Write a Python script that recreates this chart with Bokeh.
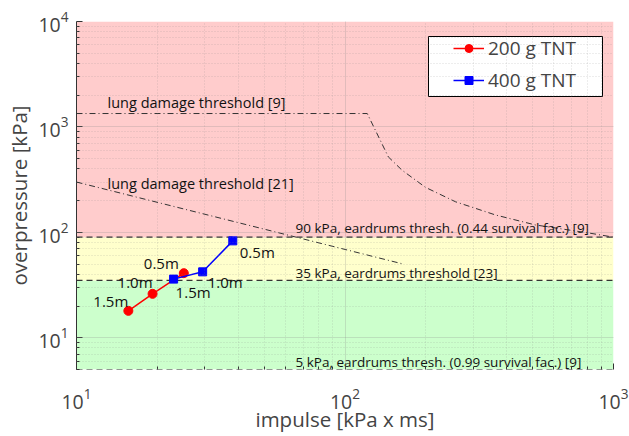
from bokeh.plotting import figure
from bokeh.models import (ColumnDataSource, FixedTicker, Legend, LegendItem, Range1d, BoxAnnotation)
from bokeh.core.properties import value
from bokeh.embed import file_html
from bokeh.resources import INLINE

# ---- data ----
distances = ["1.5m", "1.0m", "0.5m"]
impulse_200 = [15.6, 19.2, 25.1]
pressure_200 = [18.0, 26.1, 41.0]
impulse_400 = [23.0, 29.5, 38.2]
pressure_400 = [36.0, 42.2, 83.0]

# zone limits (kPa)
zone_low = [5, 35, 90]
zone_high = [35, 90, 10000]
zone_colors = ["#ccffcc", "#ffffcc", "#ffcccc"]

# eardrum thresholds
eardrum_kpa = [90, 35, 5]
eardrum_text = ["90 kPa, eardrums thresh. (0.44 survival fac.) [9]",
                "35 kPa, eardrums threshold [23]",
                "5 kPa, eardrums thresh. (0.99 survival fac.) [9]"]
lung_text = ["lung damage threshold [9]", "lung damage threshold [21]"]

# lung damage threshold [9]
lung9_impulse = [10, 121, 145, 163, 199.5, 258, 364, 512, 807, 1000]
lung9_pressure = [1340, 1340, 520, 389, 267, 195, 146, 117.5, 98.7, 90]
# lung damage threshold [21]
lung21_impulse = [10, 165]
lung21_pressure = [300, 50]

FONT = "Open Sans"

p = figure(width=629, height=436, x_axis_type="log", y_axis_type="log",
           x_range=Range1d(10, 1000), y_range=Range1d(5, 10000),
           output_backend="svg", toolbar_location=None,
           min_border_left=76, min_border_right=16, min_border_top=21, min_border_bottom=67)
p.outline_line_color = None
p.background_fill_color = "white"

# zones
p.quad(left=10, right=1000, bottom=zone_low, top=zone_high, fill_color=zone_colors, line_color=None)

# grid above zones
for g in p.grid:
    g.level = "overlay"
    g.grid_line_color = "#888888"
    g.grid_line_alpha = 0.25
    g.minor_grid_line_color = "#888888"
    g.minor_grid_line_alpha = 0.3
    g.minor_grid_line_dash = "1 2"

major_x = [10, 100, 1000]
major_y = [10, 100, 1000, 10000]
minor_x = [m * d for d in [10, 100] for m in range(2, 10)]
minor_y = [m * d for d in [1, 10, 100, 1000] for m in range(2, 10) if m * d >= 5]
p.xaxis.ticker = FixedTicker(ticks=major_x, minor_ticks=minor_x)
p.yaxis.ticker = FixedTicker(ticks=major_y, minor_ticks=minor_y)

# threshold lines
for v in eardrum_kpa:
    p.line(x=[10, 1000], y=[v, v], line_color="#333333", line_dash="6 4", line_width=1.2)
p.line(x=lung9_impulse, y=lung9_pressure, line_color="#333333", line_dash="6 3 1 3", line_width=1)
p.line(x=lung21_impulse, y=lung21_pressure, line_color="#333333", line_dash="6 3 1 3", line_width=1)

# annotations
p.text(x=[13.05, 13.05], y=[1714, 293], text=lung_text, text_font=value(FONT),
       text_font_size="14.5px", text_color="#111111", text_align="left", text_baseline="middle")
p.text(x=[65.4, 65.4, 65.4], y=[110, 41.3, 5.94], text=eardrum_text, text_font=value(FONT),
       text_font_size="13.5px", text_color="#111111", text_align="left", text_baseline="middle")

# data series
r200l = p.line(impulse_200, pressure_200, line_color="red", line_width=1.5)
r200m = p.scatter(impulse_200, pressure_200, marker="circle", size=9, fill_color="red", line_color="red")
r400l = p.line(impulse_400, pressure_400, line_color="blue", line_width=1.5)
r400m = p.scatter(impulse_400, pressure_400, marker="square", size=8, fill_color="blue", line_color="blue")

src200 = ColumnDataSource(dict(x=impulse_200, y=pressure_200, t=distances,
                               xo=[-35, -35, -40], yo=[-10, -12, -10]))
src400 = ColumnDataSource(dict(x=impulse_400, y=pressure_400, t=distances,
                               xo=[2, 5, 7], yo=[13, 10, 11]))
for s in (src200, src400):
    p.text(x="x", y="y", text="t", x_offset="xo", y_offset="yo", source=s,
           text_font=value(FONT), text_font_size="15px", text_color="#111111",
           text_align="left", text_baseline="middle")

# legend frame
box = BoxAnnotation(left=428, right=602, top=36, bottom=96,
                    left_units="canvas", right_units="canvas", top_units="canvas", bottom_units="canvas",
                    fill_color="white", fill_alpha=1, line_color="black", line_width=1, line_alpha=1)
p.add_layout(box)

legend = Legend(items=[LegendItem(label="200 g TNT", renderers=[r200l, r200m]),
                       LegendItem(label="400 g TNT", renderers=[r400l, r400m])],
                location=(377, 276))
legend.label_text_font = FONT
legend.label_text_font_size = "19px"
legend.border_line_color = None
legend.background_fill_alpha = 0
legend.glyph_width = 31
legend.glyph_height = 20
legend.label_height = 20
legend.padding = 4
legend.margin = 0
legend.spacing = 6
legend.label_standoff = 4
p.add_layout(legend)

# axes
for ax in (p.xaxis[0], p.yaxis[0]):
    ax.major_label_text_font = FONT
    ax.major_label_text_font_size = "19.5px"
    ax.axis_label_text_font = FONT
    ax.axis_label_text_font_size = "20.5px"
    ax.axis_label_text_font_style = "normal"
    ax.major_tick_in = 6
    ax.major_tick_out = 0
    ax.minor_tick_in = 3
    ax.minor_tick_out = 0
    ax.major_tick_line_color = "#333333"
    ax.minor_tick_line_color = "#333333"
    ax.axis_line_color = "#333333"
p.xaxis.axis_label = "impulse [kPa x ms]"
p.yaxis.axis_label = "overpressure [kPa]"
p.xaxis.axis_line_color = None
p.xaxis.major_label_standoff = 18
p.xaxis.axis_label_standoff = -7
p.yaxis.major_label_standoff = 8
p.yaxis.axis_label_standoff = 2

open("out.html", "w").write(file_html(p, INLINE))
